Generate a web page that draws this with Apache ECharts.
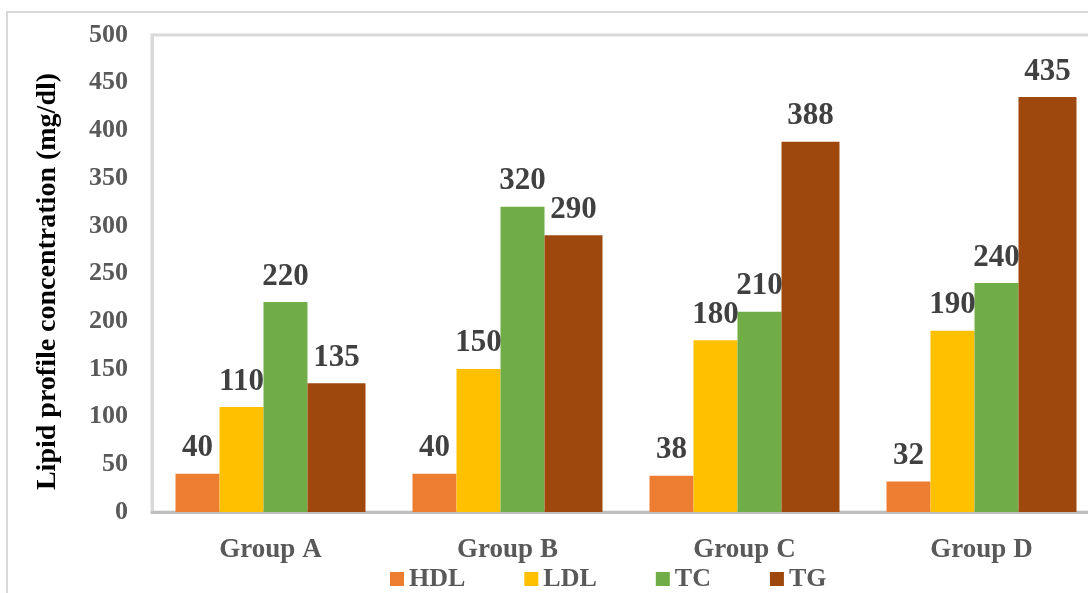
<!DOCTYPE html>
<html>
<head>
<meta charset="utf-8">
<script src="https://cdn.jsdelivr.net/npm/echarts@6/dist/echarts.min.js"></script>
<style>html,body{margin:0;padding:0;background:#fff;}#c{width:1088px;height:593px;}</style>
</head>
<body>
<div id="c"></div>
<script>
const categories = ['Group A', 'Group B', 'Group C', 'Group D'];
const hdl = [40, 40, 38, 32];
const ldl = [110, 150, 180, 190];
const tc = [220, 320, 210, 240];
const tg = [135, 290, 388, 435];
const yTicks = { min: 0, max: 500, interval: 50 };

const font = 'Liberation Serif';
const chart = echarts.init(document.getElementById('c'));
function bar(name, data, color, width) {
  return {
    name, type: 'bar', data, barWidth: width, barGap: '0%',
    itemStyle: { color },
    label: { show: true, position: 'top', distance: 10, fontFamily: font, fontWeight: 'bold', fontSize: 31, color: '#404040' }
  };
}
chart.setOption({
  animation: false,
  backgroundColor: '#fff',
  graphic: [{ type: 'rect', shape: { x: 7, y: 12, width: 1200, height: 700 }, style: { fill: 'none', stroke: '#d9d9d9', lineWidth: 2 }, z: -1 }],
  grid: { left: 152, right: -12, top: 35, bottom: 81, outerBoundsMode: 'none', containLabel: false, show: true, borderColor: '#d9d9d9', borderWidth: 3, backgroundColor: 'transparent' },
  legend: {
    left: 385, top: 561, itemWidth: 14, itemHeight: 14, itemGap: 59, icon: 'rect',
    textStyle: { fontFamily: font, fontWeight: 'bold', fontSize: 26, color: '#595959' },
    data: ['HDL', 'LDL', 'TC', 'TG']
  },
  xAxis: {
    type: 'category', data: categories,
    axisLine: { lineStyle: { color: '#bfbfbf', width: 3 } },
    axisTick: { show: false },
    axisLabel: { margin: 25, fontFamily: font, fontWeight: 'bold', fontSize: 27, color: '#595959' }
  },
  yAxis: {
    type: 'value', min: yTicks.min, max: yTicks.max, interval: yTicks.interval,
    name: 'Lipid profile concentration (mg/dl)', nameLocation: 'middle', nameGap: 90,
    nameTextStyle: { fontFamily: font, fontWeight: 'bold', fontSize: 28, color: '#000', padding: [0, 16, 0, 0] },
    axisLine: { show: true, lineStyle: { color: '#d9d9d9', width: 3 } },
    axisTick: { show: false },
    splitLine: { show: false },
    axisLabel: { margin: 24, fontFamily: font, fontWeight: 'bold', fontSize: 26, color: '#595959' }
  },
  series: [
    bar('HDL', hdl, '#ED7D31', 44),
    bar('LDL', ldl, '#FFC000', 44),
    bar('TC', tc, '#70AD47', 44),
    bar('TG', tg, '#9E480E', 58)
  ]
});
</script>
</body>
</html>
